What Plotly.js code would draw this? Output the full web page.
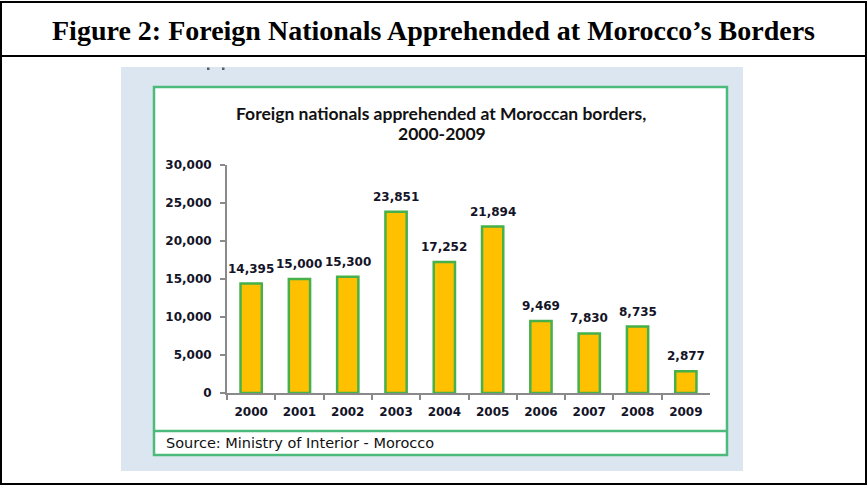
<!DOCTYPE html>
<html>
<head>
<meta charset="utf-8">
<script src="https://cdn.plot.ly/plotly-3.0.1.min.js"></script>
<style>
  html, body { margin: 0; padding: 0; background: #fff; }
  #chart { width: 868px; height: 490px; }
</style>
</head>
<body>
<div id="chart"></div>
<script>
// Foreign nationals apprehended at Moroccan borders, 2000-2009
const years = ['2000', '2001', '2002', '2003', '2004', '2005', '2006', '2007', '2008', '2009'];
const apprehended = [14395, 15000, 15300, 23851, 17252, 21894, 9469, 7830, 8735, 2877];
const yTicks = [0, 5000, 10000, 15000, 20000, 25000, 30000];

const W = 868, H = 490;
const px = v => v / W;           // pixel -> paper x
const py = v => 1 - v / H;       // pixel -> paper y

const labelFont = { family: 'DejaVu Sans', size: 12, color: '#141428', weight: 'bold' };
const axisGrey = '#8a8a8a';
const boxGreen = '#4cba7a';

const fmt = v => v.toLocaleString('en-US');

// value labels sit just above each bar (x given as category index)
const valueLabels = years.map((yr, i) => ({
  x: i, y: apprehended[i], xref: 'x', yref: 'y',
  text: fmt(apprehended[i]), showarrow: false,
  yanchor: 'middle', yshift: 15,
  font: labelFont
}));

const trace = {
  type: 'bar',
  x: years,
  y: apprehended,
  marker: { color: '#FFC000', line: { color: '#46b04a', width: 2.5 } },
  hoverinfo: 'skip'
};

const layout = {
  width: W, height: H,
  margin: { l: 0, r: 0, t: 0, b: 0 },
  paper_bgcolor: '#ffffff',
  plot_bgcolor: 'rgba(0,0,0,0)',
  showlegend: false,
  bargap: 0.56,
  xaxis: {
    type: 'category',
    categoryorder: 'array', categoryarray: years,
    range: [-0.5, years.length - 0.5],
    domain: [px(227), px(710)],
    showline: true, linecolor: axisGrey, linewidth: 2,
    ticks: 'outside', tickson: 'boundaries', ticklen: 5, tickwidth: 2, tickcolor: axisGrey,
    tickfont: labelFont, ticklabelstandoff: 7, tickangle: 0,
    showgrid: false, fixedrange: true
  },
  yaxis: {
    domain: [py(393), py(165)],
    range: [0, 30000],
    tickvals: yTicks, tickformat: ',d',
    showline: true, linecolor: axisGrey, linewidth: 2,
    ticks: 'outside', ticklen: 5, tickwidth: 2, tickcolor: axisGrey,
    tickfont: labelFont, ticklabelstandoff: 6,
    showgrid: false, zeroline: false, fixedrange: true
  },
  shapes: [
    // outer frame and heading row
    { type: 'rect', xref: 'paper', yref: 'paper', x0: px(1), x1: px(866), y0: py(2), y1: py(484),
      line: { color: '#000', width: 2 }, layer: 'below' },
    { type: 'line', xref: 'paper', yref: 'paper', x0: px(1), x1: px(866), y0: py(56), y1: py(56),
      line: { color: '#000', width: 2 }, layer: 'below' },
    // light blue backdrop
    { type: 'rect', xref: 'paper', yref: 'paper', x0: px(121), x1: px(743), y0: py(67), y1: py(471),
      fillcolor: '#dce6f1', line: { width: 0 }, layer: 'below' },
    // green-bordered chart panel with source row
    { type: 'rect', xref: 'paper', yref: 'paper', x0: px(154), x1: px(727), y0: py(87), y1: py(455),
      fillcolor: '#ffffff', line: { color: boxGreen, width: 2.5 }, layer: 'below' },
    { type: 'line', xref: 'paper', yref: 'paper', x0: px(154), x1: px(727), y0: py(431), y1: py(431),
      line: { color: boxGreen, width: 2.5 }, layer: 'below' },
    // small marks at the top of the backdrop
    { type: 'rect', xref: 'paper', yref: 'paper', x0: px(207), x1: px(209.5), y0: py(67.5), y1: py(70),
      fillcolor: '#5a5a6a', line: { width: 0 }, layer: 'below' },
    { type: 'rect', xref: 'paper', yref: 'paper', x0: px(222), x1: px(224.5), y0: py(67.5), y1: py(70),
      fillcolor: '#5a5a6a', line: { width: 0 }, layer: 'below' }
  ],
  annotations: [
    { xref: 'paper', yref: 'paper', x: px(433), y: py(31), xanchor: 'center', yanchor: 'middle',
      text: 'Figure 2: Foreign Nationals Apprehended at Morocco’s Borders', showarrow: false,
      font: { family: 'Liberation Serif', size: 28, color: '#000', weight: 'bold' } },
    { xref: 'paper', yref: 'paper', x: px(441), y: py(113), xanchor: 'center', yanchor: 'middle',
      text: 'Foreign nationals apprehended at Moroccan borders,', showarrow: false,
      font: { family: 'Lato', size: 17.5, color: '#111', weight: 'bold' } },
    { xref: 'paper', yref: 'paper', x: px(442), y: py(134), xanchor: 'center', yanchor: 'middle',
      text: '2000-2009', showarrow: false,
      font: { family: 'Lato', size: 17.5, color: '#111', weight: 'bold' } },
    { xref: 'paper', yref: 'paper', x: px(164), y: py(443), xanchor: 'left', yanchor: 'middle',
      text: 'Source: Ministry of Interior - Morocco', showarrow: false,
      font: { family: 'DejaVu Sans', size: 14.5, color: '#111' } }
  ].concat(valueLabels)
};

Plotly.newPlot('chart', [trace], layout, { displayModeBar: false, staticPlot: true });
</script>
</body>
</html>
